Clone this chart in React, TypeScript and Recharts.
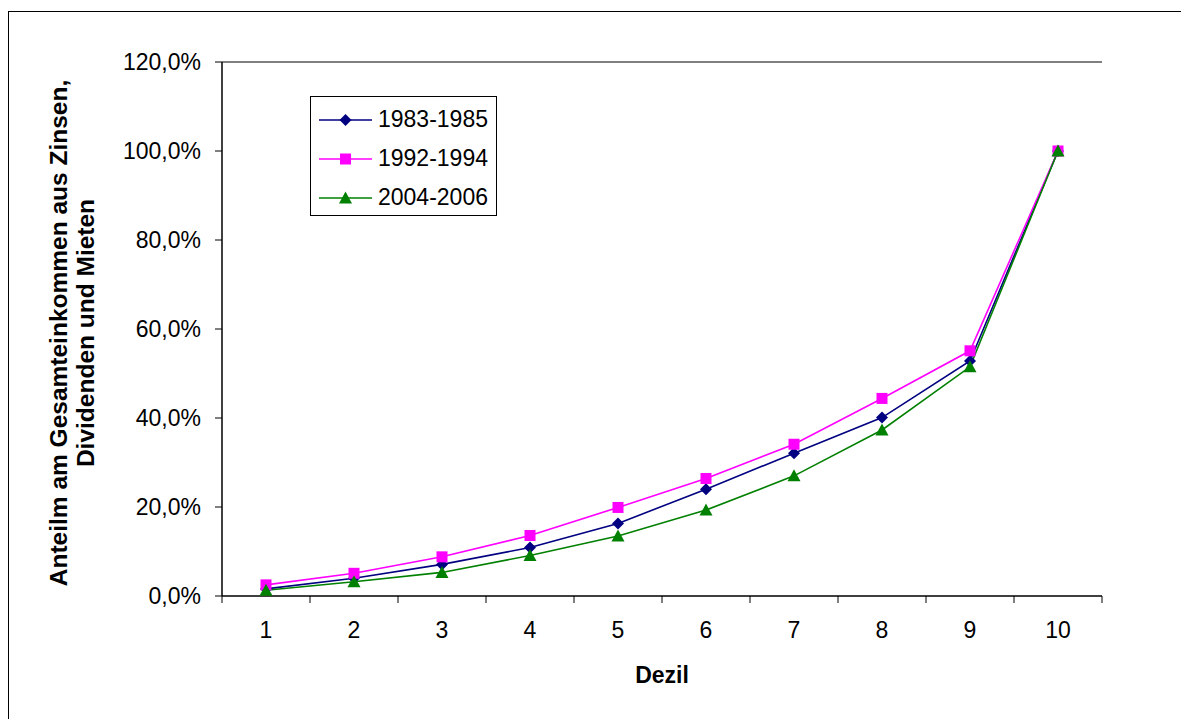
import React from 'react';
import { LineChart, Line, XAxis, YAxis, CartesianGrid, Legend, ReferenceLine } from 'recharts';

const dezil = [1, 2, 3, 4, 5, 6, 7, 8, 9, 10];
const dezilEdges = [0.5, 1.5, 2.5, 3.5, 4.5, 5.5, 6.5, 7.5, 8.5, 9.5, 10.5];
const yTicks = [0, 20, 40, 60, 80, 100, 120];

const s1983 = [1.6, 4.0, 7.1, 10.9, 16.3, 24.0, 32.1, 40.1, 52.8, 100];
const s1992 = [2.5, 5.1, 8.8, 13.6, 19.9, 26.4, 34.1, 44.4, 55.1, 100];
const s2004 = [1.3, 3.2, 5.3, 9.1, 13.5, 19.3, 27.0, 37.3, 51.5, 100];

const seriesNames = ['1983-1985', '1992-1994', '2004-2006'];
const seriesColors = ['#000080', '#FF00FF', '#008000'];

const data = dezil.map((d, i) => ({ dezil: d, a: s1983[i], b: s1992[i], c: s2004[i] }));
const xTicks = [...dezil, ...dezilEdges].sort((p, q) => p - q);

const FONT = '"Liberation Sans", Arial, sans-serif';

const Marker = ({ kind, cx, cy, color }: { kind: number; cx: number; cy: number; color: string }) => {
    if (cx == null || cy == null) return null;
    if (kind === 0) {
        const r = 6;
        return <polygon points={`${cx},${cy - r} ${cx + r},${cy} ${cx},${cy + r} ${cx - r},${cy}`} fill={color} />;
    }
    if (kind === 1) {
        const r = 5.5;
        return <rect x={cx - r} y={cy - r} width={r * 2} height={r * 2} fill={color} />;
    }
    const r = 6.5;
    return <polygon points={`${cx},${cy - r} ${cx + r},${cy + r - 1} ${cx - r},${cy + r - 1}`} fill={color} />;
};

const makeDot = (kind: number) => (props: any) => (
    <Marker key={`${kind}-${props.index}`} kind={kind} cx={props.cx} cy={props.cy} color={seriesColors[kind]} />
);

const fmt = (v: number) => v.toFixed(1).replace('.', ',') + '%';

// category labels at integer ticks, short tick marks at the band edges
const XTick = (props: any) => {
    const { x, y, payload } = props;
    const v = payload.value;
    if (Number.isInteger(v)) {
        return (
            <text x={x} y={y + 42} textAnchor="middle" fill="#000" fontSize={23} fontFamily={FONT}>
                {v}
            </text>
        );
    }
    return <line x1={x} x2={x} y1={y} y2={y + 7} stroke="#000" strokeWidth={1} />;
};

const LegendBox = () => (
    <div
        style={{
            border: '1.5px solid #000',
            background: '#fff',
            width: 187,
            height: 120,
            paddingTop: 3,
            boxSizing: 'border-box',
        }}
    >
        {seriesNames.map((name, i) => (
            <div key={name} style={{ display: 'flex', alignItems: 'center', height: 39 }}>
                <svg width={67} height={20}>
                    <line x1={8} x2={61} y1={10} y2={10} stroke={seriesColors[i]} strokeWidth={1.6} />
                    <Marker kind={i} cx={34.5} cy={10} color={seriesColors[i]} />
                </svg>
                <span style={{ fontFamily: FONT, fontSize: 23, color: '#000', lineHeight: 1 }}>{name}</span>
            </div>
        ))}
    </div>
);

export default function App() {
    return (
        <div style={{ position: 'absolute', left: 0, top: 0, width: 1181, height: 719, overflow: 'hidden', background: '#fff' }}>
            <div
                style={{
                    position: 'absolute',
                    left: 8,
                    top: 11,
                    width: 1200,
                    height: 740,
                    border: '1.5px solid #000',
                }}
            />
            <LineChart width={1181} height={719} data={data} margin={{ top: 62, right: 79, left: 142, bottom: 63 }}>
                <CartesianGrid vertical={false} stroke="#000" strokeWidth={1} />
                <XAxis
                    dataKey="dezil"
                    type="number"
                    domain={[0.5, 10.5]}
                    allowDataOverflow
                    ticks={xTicks}
                    interval={0}
                    tickLine={false}
                    tickSize={0}
                    tickMargin={0}
                    height={60}
                    axisLine={{ stroke: '#000' }}
                    tick={<XTick />}
                />
                <YAxis
                    yAxisId="v"
                    domain={[0, 120]}
                    ticks={yTicks}
                    interval={0}
                    width={80}
                    tickSize={7}
                    tickMargin={14}
                    tickFormatter={fmt}
                    axisLine={{ stroke: '#000', strokeWidth: 1.5 }}
                    tickLine={{ stroke: '#000' }}
                    tick={{ fill: '#000', fontSize: 23, fontFamily: FONT }}
                />
                <YAxis
                    yAxisId="r"
                    orientation="right"
                    domain={[0, 120]}
                    width={0}
                    tick={false}
                    tickLine={false}
                    axisLine={{ stroke: '#808080', strokeWidth: 2 }}
                />
                <ReferenceLine yAxisId="v" y={120} stroke="#808080" strokeWidth={2} />
                <Legend
                    layout="vertical"
                    align="center"
                    verticalAlign="middle"
                    content={() => <LegendBox />}
                    wrapperStyle={{ left: 310, top: 96, width: 'auto' }}
                />
                <Line
                    yAxisId="v"
                    dataKey="a"
                    name={seriesNames[0]}
                    stroke={seriesColors[0]}
                    strokeWidth={1.6}
                    dot={makeDot(0)}
                    activeDot={false}
                    isAnimationActive={false}
                />
                <Line
                    yAxisId="v"
                    dataKey="b"
                    name={seriesNames[1]}
                    stroke={seriesColors[1]}
                    strokeWidth={1.6}
                    dot={makeDot(1)}
                    activeDot={false}
                    isAnimationActive={false}
                />
                <Line
                    yAxisId="v"
                    dataKey="c"
                    name={seriesNames[2]}
                    stroke={seriesColors[2]}
                    strokeWidth={1.6}
                    dot={makeDot(2)}
                    activeDot={false}
                    isAnimationActive={false}
                />
            </LineChart>
            <div
                style={{
                    position: 'absolute',
                    left: 72 - 300,
                    top: 333 - 27,
                    width: 600,
                    height: 54,
                    transform: 'rotate(-90deg)',
                    transformOrigin: '300px 27px',
                    textAlign: 'center',
                    fontFamily: FONT,
                    fontWeight: 'bold',
                    fontSize: 24.5,
                    lineHeight: '27px',
                    color: '#000',
                }}
            >
                Anteilm am Gesamteinkommen aus Zinsen,
                <br />
                Dividenden und Mieten
            </div>
            <div
                style={{
                    position: 'absolute',
                    left: 562,
                    top: 662,
                    width: 200,
                    textAlign: 'center',
                    fontFamily: FONT,
                    fontWeight: 'bold',
                    fontSize: 23,
                    lineHeight: '27px',
                    color: '#000',
                }}
            >
                Dezil
            </div>
        </div>
    );
}
